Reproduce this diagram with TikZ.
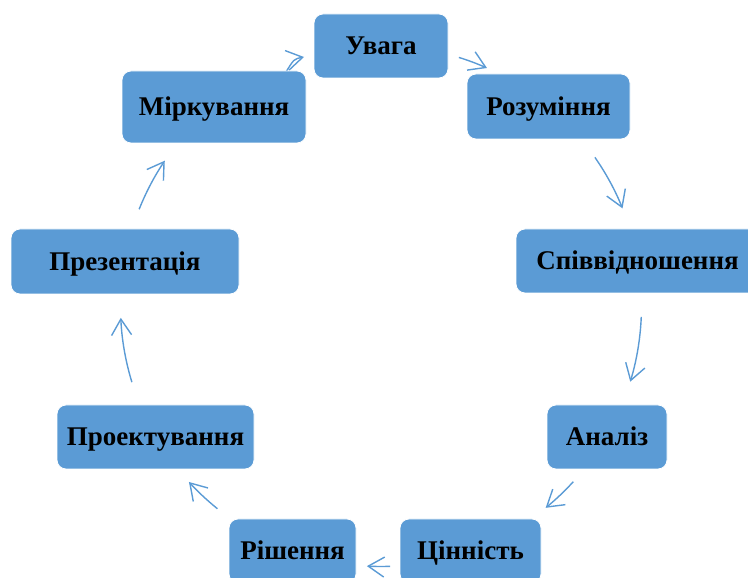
\documentclass[tikz,border=0pt]{standalone}
\usepackage{fontspec}
\setmainfont{Liberation Serif}
\usetikzlibrary{arrows.meta,backgrounds}
\definecolor{boxblue}{HTML}{5B9BD5}
\begin{document}
\begin{tikzpicture}[x=1pt,y=1pt,
  stage/.style={fill=boxblue, draw=white, line width=0.8pt, rounded corners=9pt,
    inner sep=0pt, text height=18pt, text depth=0pt,
    font=\bfseries\fontsize{27}{30}\selectfont},
  cyc/.style={draw=boxblue, line width=1.4pt,
    -{Straight Barb[length=16pt,width=20pt,line width=1.4pt]}}]
\useasboundingbox (0,0) rectangle (748,578);
\clip (0,0) rectangle (748,578);
\coordinate (C) at (381,272);
\node[stage, minimum width=134pt, minimum height=64pt] (uvaha) at (381,532) {Увага};
\node[stage, minimum width=163pt, minimum height=65pt] (rozum) at (548.5,471.5) {Розуміння};
\node[stage, minimum width=243pt, minimum height=64pt] (spivv) at (637.5,317) {Співвідношення};
\node[stage, minimum width=120pt, minimum height=64pt] (analiz) at (607,141) {Аналіз};
\node[stage, minimum width=141pt, minimum height=64pt] (tsinn) at (470.5,27) {Цінність};
\node[stage, minimum width=127pt, minimum height=64pt] (rishen) at (292.5,27) {Рішення};
\node[stage, minimum width=197pt, minimum height=64pt] (proekt) at (155.5,141) {Проектування};
\node[stage, minimum width=228pt, minimum height=65pt] (prezent) at (125,316.5) {Презентація};
\node[stage, minimum width=184pt, minimum height=72pt] (mirk) at (214,471) {Міркування};
\begin{pgfonlayer}{background}
\path (C) ++(72.6:260.5) coordinate (a1);
\path (C) ++(34.8:260.5) coordinate (a2);
\path (C) ++(-2.4:260.5) coordinate (a3);
\path (C) ++(-42.4:260.5) coordinate (a4);
\path (C) ++(-88:260.5) coordinate (a5);
\path (C) ++(-128.9:260.5) coordinate (a6);
\path (C) ++(-163:260.5) coordinate (a7);
\path (C) ++(158.2:260.5) coordinate (a8);
\coordinate (a9) at (286,506);
\coordinate (e9) at (304,521);
\draw[cyc] (a1) arc[start angle=72.6, end angle=66, radius=260.5];
\draw[cyc] (a2) arc[start angle=34.8, end angle=22, radius=260.5];
\draw[cyc] (a3) arc[start angle=-2.4, end angle=-16.9, radius=260.5];
\draw[cyc] (a4) arc[start angle=-42.4, end angle=-50.8, radius=260.5];
\draw[cyc] (a5) arc[start angle=-88, end angle=-93.1, radius=260.5];
\draw[cyc] (a6) arc[start angle=-128.9, end angle=-137.5, radius=260.5];
\draw[cyc] (a7) arc[start angle=-163, end angle=-177.4, radius=260.5];
\draw[cyc] (a8) arc[start angle=158.2, end angle=146.1, radius=260.5];
\draw[cyc] (a9) .. controls (294,519) .. (e9);
\end{pgfonlayer}
\end{tikzpicture}
\end{document}
